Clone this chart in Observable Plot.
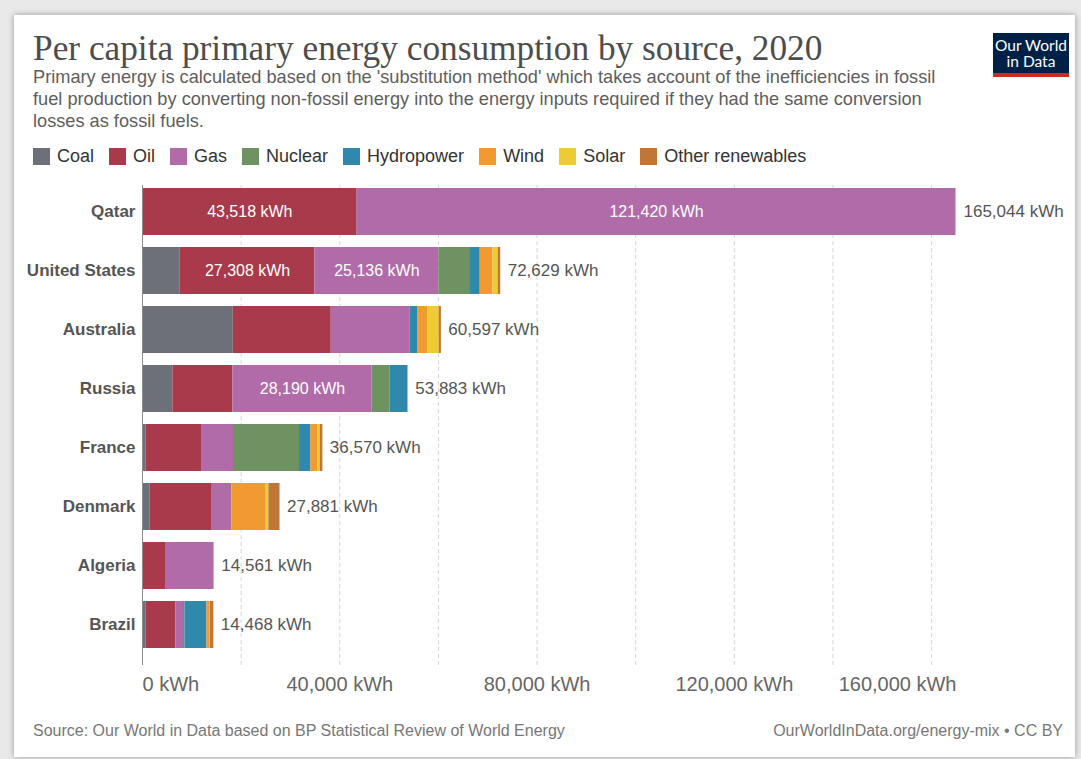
<!DOCTYPE html>
<html>
<head>
<meta charset="utf-8">
<script src="https://cdn.jsdelivr.net/npm/d3@7"></script>
<script src="https://cdn.jsdelivr.net/npm/@observablehq/plot@0.6"></script>
<style>
  html, body { margin: 0; padding: 0; }
  body { width: 1081px; height: 759px; background: #e9e9e9; position: relative; overflow: hidden; font-family: "Liberation Sans", Arial, sans-serif; }
  #card { position: absolute; left: 14px; top: 15px; width: 1061px; height: 742px; background: #fff; box-shadow: 0 0 6px rgba(0,0,0,0.35); }
  .abs { position: absolute; }
  #title { left: 33px; top: 31px; font-family: "Liberation Serif", "Times New Roman", serif; font-size: 35.3px; line-height: 35px; color: #4d4d4d; white-space: nowrap; }
  #subtitle { left: 33px; top: 66px; font-size: 18.2px; line-height: 22px; color: #5e5e5e; white-space: nowrap; }
  #legend { left: 33px; top: 146px; display: flex; align-items: center; font-size: 18px; color: #333; height: 21px; }
  .item { display: flex; align-items: center; margin-right: 15px; }
  .sw { width: 17px; height: 17px; margin-right: 7px; }
  #logo { left: 993px; top: 33px; width: 76px; height: 44px; background: #002147; color: #fff; font-family: Lato, "Liberation Sans", sans-serif; font-size: 15.5px; line-height: 16px; text-align: center; box-sizing: border-box; padding-top: 4px; border-bottom: 4px solid #cf2a20; }
  #chart { left: 0; top: 175px; }
  #source { left: 33px; top: 722px; font-size: 16px; color: #777; }
  #url { right: 18px; top: 722px; font-size: 16px; color: #777; }
</style>
</head>
<body>
<div id="card"></div>
<div id="title" class="abs">Per capita primary energy consumption by source, 2020</div>
<div id="subtitle" class="abs">Primary energy is calculated based on the 'substitution method' which takes account of the inefficiencies in fossil<br>fuel production by converting non-fossil energy into the energy inputs required if they had the same conversion<br>losses as fossil fuels.</div>
<div id="legend" class="abs"></div>
<div id="logo" class="abs">Our World<br>in Data</div>
<div id="chart" class="abs"></div>
<div id="source" class="abs">Source: Our World in Data based on BP Statistical Review of World Energy</div>
<div id="url" class="abs">OurWorldInData.org/energy-mix • CC BY</div>
<script>
const countries = ["Qatar", "United States", "Australia", "Russia", "France", "Denmark", "Algeria", "Brazil"];
const sources = ["Coal", "Oil", "Gas", "Nuclear", "Hydropower", "Wind", "Solar", "Other renewables"];
const colors = ["#6e7079", "#a83a4b", "#b06ba8", "#6e9261", "#2f89ad", "#f19a2f", "#eccb35", "#bf7636"];
const coal    = [0,      7650,  18400, 6165,  750,   1562,  0,    750];
const oil     = [43518,  27308, 19870, 12168, 11357, 12573, 4665, 6020];
const gas     = [121420, 25136, 16020, 28190, 6348,  3995,  9850, 1545];
const nuclear = [0,      6230,  0,     3700,  13385, 0,     0,    300];
const hydro   = [0,      2150,  1480,  3600,  2310,  0,     6,    4445];
const wind    = [0,      2560,  2110,  30,    1420,  6957,  0,    560];
const solar   = [106,    1080,  2290,  15,    470,   543,   40,   100];
const other   = [0,      515,   427,   15,    530,   2251,  0,    748];
const totals  = [165044, 72629, 60597, 53883, 36570, 27881, 14561, 14468];
const gridTicks = [20000, 40000, 60000, 80000, 100000, 120000, 140000, 160000];
const labelTicks = [0, 40000, 80000, 120000, 160000];

const series = [coal, oil, gas, nuclear, hydro, wind, solar, other];
const table = [];
countries.forEach((c, i) => {
  sources.forEach((s, j) => table.push({country: c, source: s, value: series[j][i]}));
});
const totalTable = countries.map((c, i) => ({country: c, total: totals[i]}));
const fmt = d3.format(",");
const maxTotal = d3.max(totals);

// legend
const legend = document.getElementById("legend");
sources.forEach((s, i) => {
  const it = document.createElement("div");
  it.className = "item";
  it.innerHTML = `<div class="sw" style="background:${colors[i]}"></div><span>${s}</span>`;
  legend.appendChild(it);
});

const chart = Plot.plot({
  width: 1081,
  height: 530,
  marginLeft: 142,
  marginRight: 125,
  marginTop: 10,
  marginBottom: 40,
  style: {fontFamily: "'Liberation Sans', Arial, sans-serif", color: "#555", background: "transparent"},
  x: {domain: [0, maxTotal], axis: null},
  y: {domain: countries, paddingInner: 0.205, paddingOuter: 0.109, align: 0.13, label: null},
  color: {domain: sources, range: colors},
  marks: [
    Plot.ruleX(gridTicks, {stroke: "#d6d6d6", strokeDasharray: "4,3"}),
    Plot.barX(table, Plot.stackX({y: "country", x: "value", fill: "source", order: sources})),
    Plot.text(table, Plot.stackX({y: "country", x: "value", z: "source", order: sources,
      text: d => d.value > 20000 ? fmt(d.value) + " kWh" : "", fill: "white", fontSize: 16})),
    Plot.text(totalTable, {x: "total", y: "country", text: d => fmt(d.total) + " kWh",
      textAnchor: "start", dx: 7, fontSize: 17, fill: "#555"}),
    Plot.ruleX([0], {stroke: "#8c8c8c"}),
    Plot.axisY({tickSize: 0, tickPadding: 7, fontSize: 17, fontWeight: "bold", fill: "#555", label: null}),
    Plot.text(labelTicks.filter(d => d === 0), {x: d => d, frameAnchor: "bottom", dy: 25, textAnchor: "start",
      text: d => fmt(d) + " kWh", fontSize: 20, fill: "#666"}),
    Plot.text(labelTicks.filter(d => d > 0 && d < d3.max(labelTicks)), {x: d => d, frameAnchor: "bottom", dy: 25,
      text: d => fmt(d) + " kWh", fontSize: 20, fill: "#666"}),
    Plot.text(labelTicks.filter(d => d === d3.max(labelTicks)), {x: d => Math.min(d + 40000, maxTotal), frameAnchor: "bottom", dy: 25,
      textAnchor: "end", text: d => fmt(d) + " kWh", fontSize: 20, fill: "#666"})
  ]
});
document.getElementById("chart").appendChild(chart);
</script>
</body>
</html>
